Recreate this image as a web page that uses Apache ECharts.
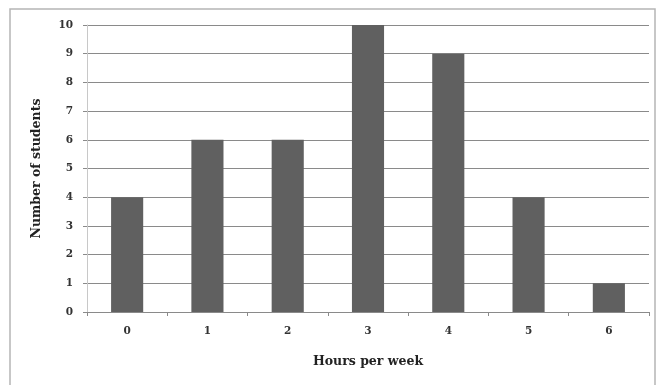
<!DOCTYPE html>
<html>
<head>
    <meta charset="utf-8">
    <script type="text/javascript" src="https://cdn.jsdelivr.net/npm/echarts@6/dist/echarts.min.js"></script>
    <title>Hours per week</title>
    <style>
        html, body { margin: 0; padding: 0; background: #fff; }
    </style>
</head>
<body>
    <div id="container" style="width:659px;height:385px;"></div>
    <script type="text/javascript">
    // data
    var hours = ['0', '1', '2', '3', '4', '5', '6'];
    var students = [4, 6, 6, 10, 9, 4, 1];

    var myChart = echarts.init(document.getElementById('container'));

    var fontFam = 'DejaVu Serif';
    var gridColor = '#8a8a8a';

    var option = {
        animation: false,
        backgroundColor: '#fff',
        // outer chart border
        graphic: [{
            type: 'rect',
            shape: { x: 10, y: 9, width: 645, height: 400 },
            style: { fill: 'none', stroke: '#b5b5b5', lineWidth: 1.5 },
            silent: true
        }],
        grid: {
            left: 87,
            right: 10,
            top: 25,
            bottom: 73
        },
        xAxis: {
            type: 'category',
            data: hours,
            name: 'Hours per week',
            nameLocation: 'middle',
            nameGap: 43,
            nameTextStyle: { fontFamily: fontFam, fontWeight: 'bold', fontSize: 12.5, color: '#222' },
            axisLine: { lineStyle: { color: gridColor, width: 1 } },
            axisTick: { show: true, length: 4, lineStyle: { color: gridColor } },
            axisLabel: { margin: 14, fontFamily: fontFam, fontWeight: 'bold', fontSize: 10.5, color: '#333' }
        },
        yAxis: {
            type: 'value',
            min: 0,
            max: 10,
            interval: 1,
            name: 'Number of students',
            nameLocation: 'middle',
            nameGap: 44,
            nameTextStyle: { fontFamily: fontFam, fontWeight: 'bold', fontSize: 12.5, color: '#222' },
            axisLine: { show: true, lineStyle: { color: '#c8c8c8', width: 1 } },
            axisTick: { show: true, length: 4, lineStyle: { color: gridColor } },
            axisLabel: { margin: 14, fontFamily: fontFam, fontWeight: 'bold', fontSize: 10.5, color: '#333' },
            splitLine: { lineStyle: { color: gridColor, width: 1 } }
        },
        series: [{
            type: 'bar',
            data: students,
            barWidth: '40%',
            itemStyle: { color: '#606060' }
        }]
    };

    myChart.setOption(option);
    </script>
</body>
</html>
